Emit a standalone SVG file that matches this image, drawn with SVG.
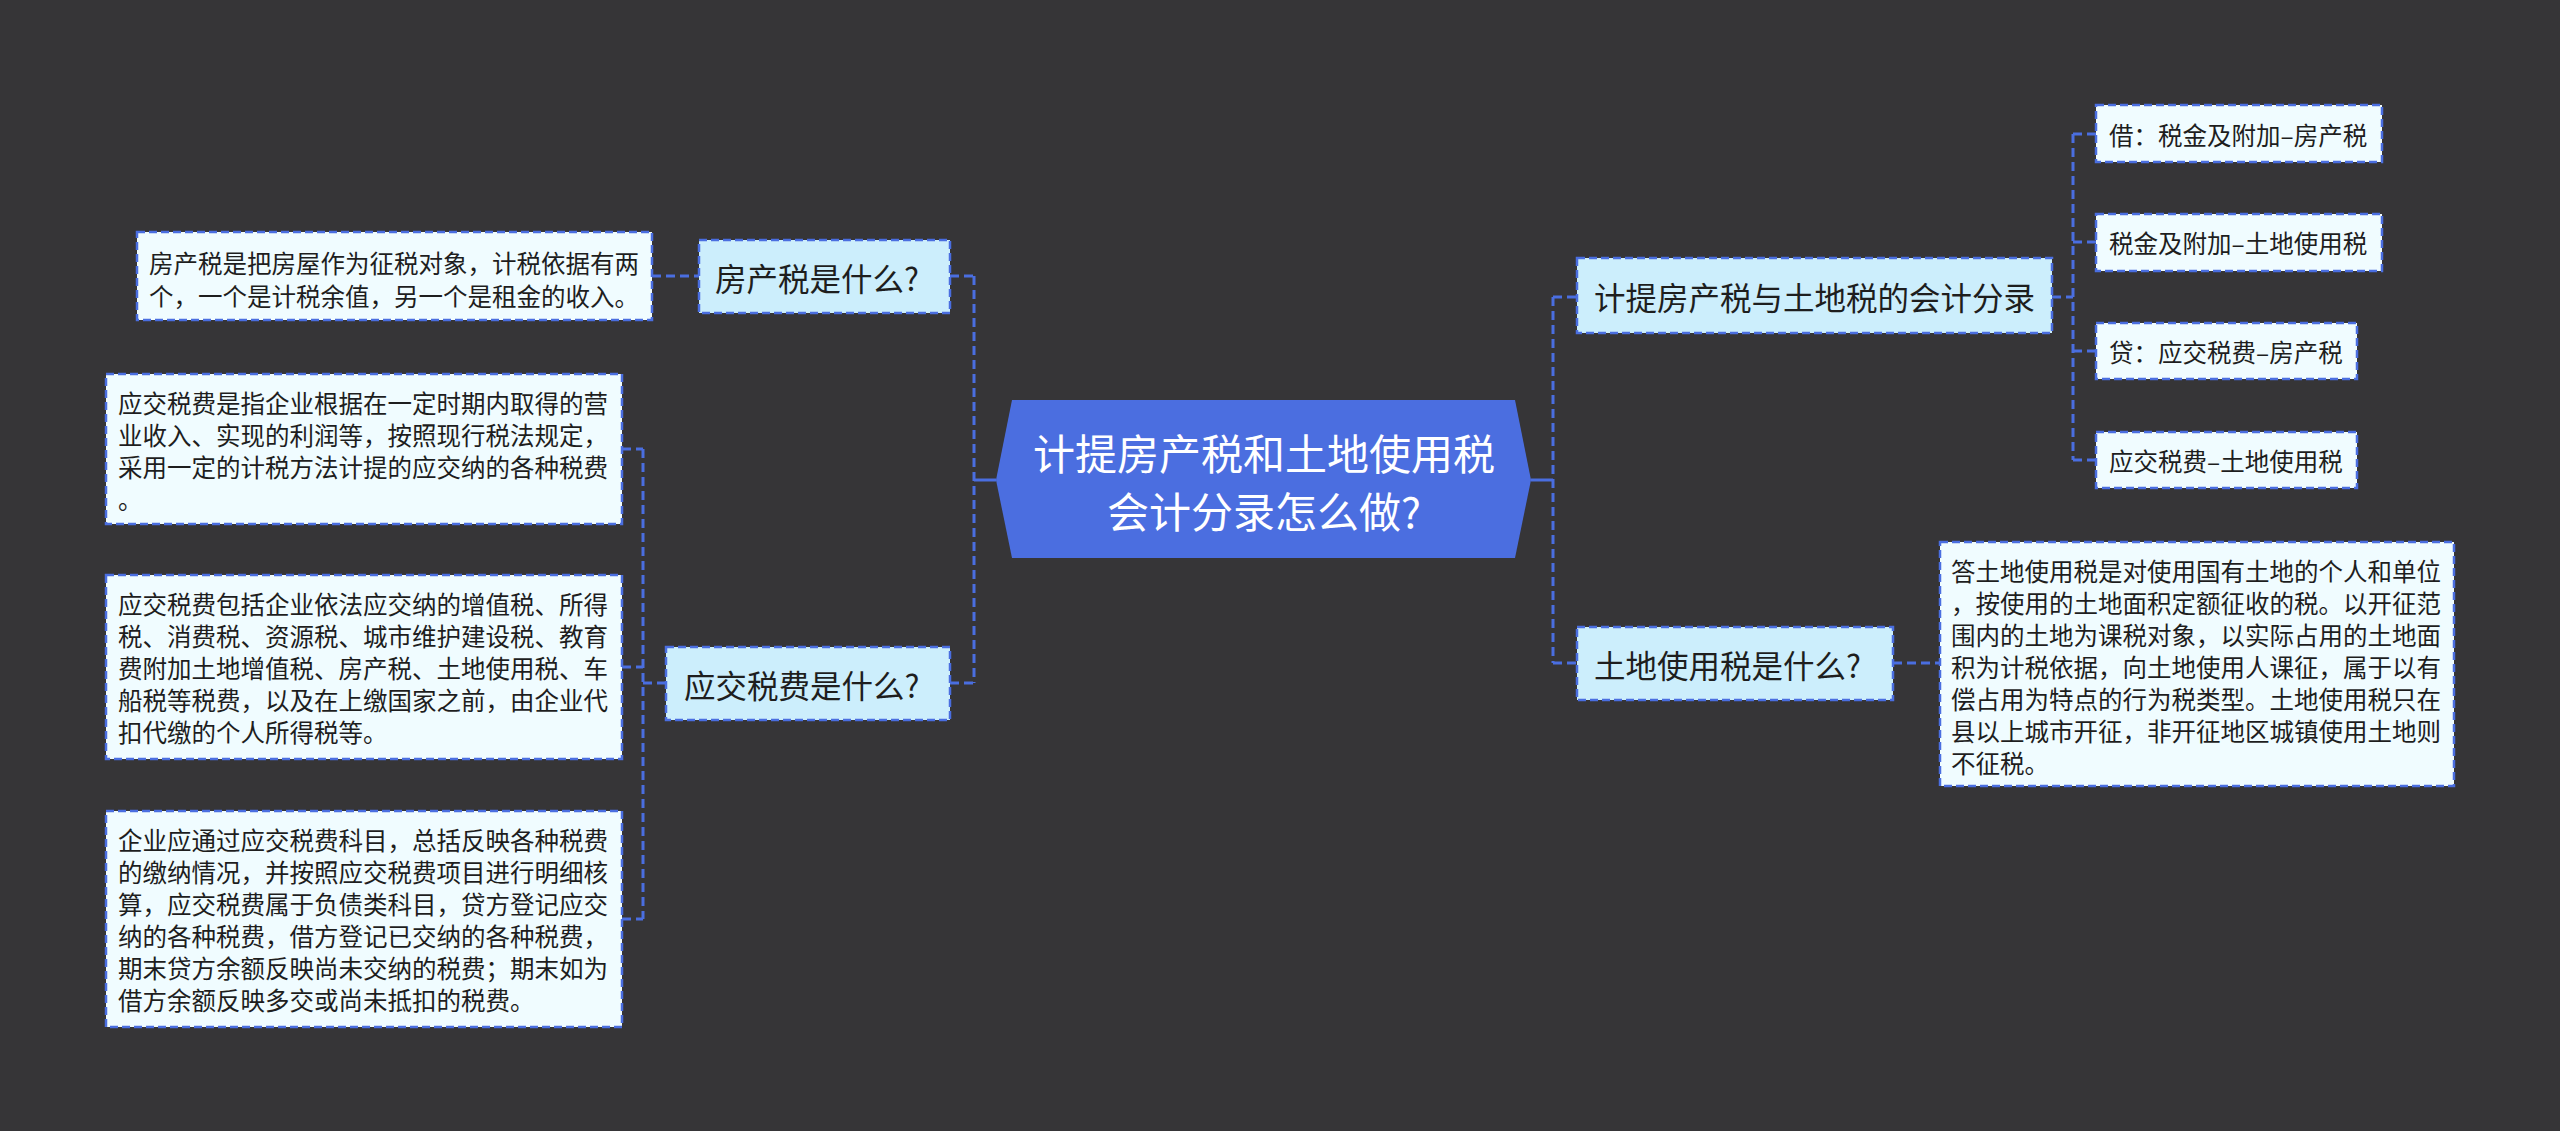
<svg xmlns="http://www.w3.org/2000/svg" width="2560" height="1131" viewBox="0 0 2560 1131">
<style>
.bg{fill:#363537}
.conn{fill:none;stroke:#4A6EE0;stroke-width:3;stroke-dasharray:9 5}
.solid{fill:none;stroke:#4A6EE0;stroke-width:3}
.l1 rect{fill:#CCEEFC;stroke:#4A6EE0;stroke-width:2.5;stroke-dasharray:8 4}
.desc rect{fill:#F0FCFF;stroke:#4A6EE0;stroke-width:2.5;stroke-dasharray:8 4}
text{font-family:"Noto Sans CJK SC","Noto Sans",sans-serif;fill:#1E1E1E;dominant-baseline:central}
.t1{font-size:31.5px}
.td{font-size:24.5px}
.tc{font-size:42px;fill:#fff;text-anchor:middle}
</style>
<rect class="bg" x="0" y="0" width="2560" height="1131"/>
<g id="connectors">
<path class="solid" d="M996 480H974"/>
<path class="conn" d="M974 276V683M950 276H974M950 683H974"/>
<path class="conn" d="M652 276H699"/>
<path class="conn" d="M643 449V919M622 449H643M622 667H643M622 919H643M643 683H666"/>
<path class="solid" d="M1531 480H1553"/>
<path class="conn" d="M1553 297V663M1553 297H1577M1553 663H1577"/>
<path class="conn" d="M1893 663H1940"/>
<path class="conn" d="M2073 134V460M2052 297H2073M2073 134H2096M2073 242H2096M2073 351H2096M2073 460H2096"/>
</g>
<g id="center">
<polygon points="996,480 1012,400 1515,400 1531,480 1515,558 1012,558" fill="#4B6EE0"/>
<text class="tc" x="1264" y="451">计提房产税和土地使用税</text>
<text class="tc" x="1264" y="509">会计分录怎么做?</text>
</g>
<g id="n-fcs" class="l1">
<rect x="699" y="240" width="251" height="73"/>
<text class="t1" x="715" y="277">房产税是什么?</text>
</g>
<g id="n-yjsf" class="l1">
<rect x="666" y="647" width="284" height="73"/>
<text class="t1" x="684" y="684">应交税费是什么?</text>
</g>
<g id="n-jt" class="l1">
<rect x="1577" y="258" width="475" height="75"/>
<text class="t1" x="1594" y="296">计提房产税与土地税的会计分录</text>
</g>
<g id="n-tdsys" class="l1">
<rect x="1577" y="627" width="316" height="73"/>
<text class="t1" x="1594" y="664">土地使用税是什么?</text>
</g>
<g id="d-fcs" class="desc">
<rect x="137" y="232" width="515" height="88"/>
<text class="td" x="149" y="262">房产税是把房屋作为征税对象，计税依据有两</text>
<text class="td" x="149" y="295">个，一个是计税余值，另一个是租金的收入。</text>
</g>
<g id="d-yjsf1" class="desc">
<rect x="106" y="374" width="516" height="150"/>
<text class="td" x="118" y="402">应交税费是指企业根据在一定时期内取得的营</text>
<text class="td" x="118" y="434">业收入、实现的利润等，按照现行税法规定，</text>
<text class="td" x="118" y="466">采用一定的计税方法计提的应交纳的各种税费</text>
<text class="td" x="118" y="498">。</text>
</g>
<g id="d-yjsf2" class="desc">
<rect x="106" y="575" width="516" height="184"/>
<text class="td" x="118" y="603">应交税费包括企业依法应交纳的增值税、所得</text>
<text class="td" x="118" y="635">税、消费税、资源税、城市维护建设税、教育</text>
<text class="td" x="118" y="667">费附加土地增值税、房产税、土地使用税、车</text>
<text class="td" x="118" y="699">船税等税费，以及在上缴国家之前，由企业代</text>
<text class="td" x="118" y="731">扣代缴的个人所得税等。</text>
</g>
<g id="d-yjsf3" class="desc">
<rect x="106" y="811" width="516" height="216"/>
<text class="td" x="118" y="839">企业应通过应交税费科目，总括反映各种税费</text>
<text class="td" x="118" y="871">的缴纳情况，并按照应交税费项目进行明细核</text>
<text class="td" x="118" y="903">算，应交税费属于负债类科目，贷方登记应交</text>
<text class="td" x="118" y="935">纳的各种税费，借方登记已交纳的各种税费，</text>
<text class="td" x="118" y="967">期末贷方余额反映尚未交纳的税费；期末如为</text>
<text class="td" x="118" y="999">借方余额反映多交或尚未抵扣的税费。</text>
</g>
<g id="d-tdsys" class="desc">
<rect x="1940" y="542" width="514" height="244"/>
<text class="td" x="1951" y="570">答土地使用税是对使用国有土地的个人和单位</text>
<text class="td" x="1951" y="602">，按使用的土地面积定额征收的税。以开征范</text>
<text class="td" x="1951" y="634">围内的土地为课税对象，以实际占用的土地面</text>
<text class="td" x="1951" y="666">积为计税依据，向土地使用人课征，属于以有</text>
<text class="td" x="1951" y="698">偿占用为特点的行为税类型。土地使用税只在</text>
<text class="td" x="1951" y="730">县以上城市开征，非开征地区城镇使用土地则</text>
<text class="td" x="1951" y="762">不征税。</text>
</g>
<g id="c1" class="desc">
<rect x="2096" y="105" width="286" height="57"/>
<text class="td" x="2109" y="134">借：税金及附加–房产税</text>
</g>
<g id="c2" class="desc">
<rect x="2096" y="214" width="286" height="57"/>
<text class="td" x="2109" y="242">税金及附加–土地使用税</text>
</g>
<g id="c3" class="desc">
<rect x="2096" y="323" width="261" height="56"/>
<text class="td" x="2109" y="351">贷：应交税费–房产税</text>
</g>
<g id="c4" class="desc">
<rect x="2096" y="432" width="261" height="56"/>
<text class="td" x="2109" y="460">应交税费–土地使用税</text>
</g>
</svg>
